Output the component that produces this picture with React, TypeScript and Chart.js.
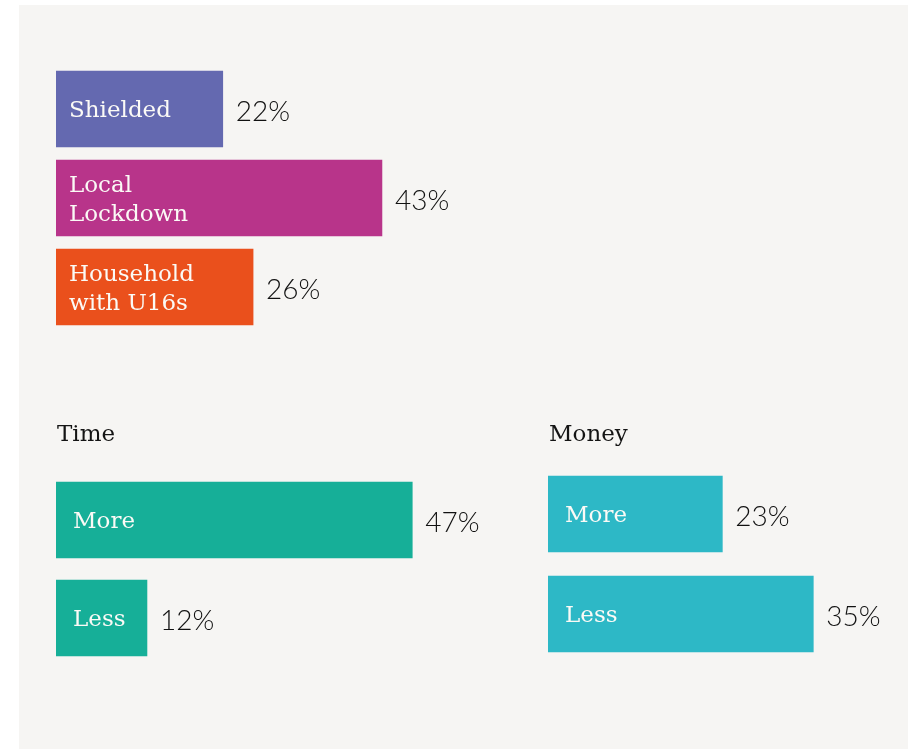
import React, { useEffect, useRef } from "react";
import { Chart, registerables } from "chart.js";

Chart.register(...registerables);

// ---- data ----
const topLabels = [["Shielded"], ["Local", "Lockdown"], ["Household", "with U16s"]];
const topValues = [22, 43, 26];
const topColors = ["#6469b0", "#b8348a", "#ea501c"];

const timeTitle = "Time";
const timeLabels = [["More"], ["Less"]];
const timeValues = [47, 12];
const timeColors = ["#16af98", "#16af98"];

const moneyTitle = "Money";
const moneyLabels = [["More"], ["Less"]];
const moneyValues = [23, 35];
const moneyColors = ["#2db8c6", "#2db8c6"];

const valueSuffix = "%";

// ---- layout ----
const PX_PER_UNIT = 7.58;
const PANEL_BG = "#f6f5f3";

const labelPlugin = {
  id: "barLabels",
  afterDatasetsDraw(chart: any, _args: any, opts: any) {
    const ctx = chart.ctx;
    const meta = chart.getDatasetMeta(0);
    const data = chart.data.datasets[0].data;
    meta.data.forEach((bar: any, i: number) => {
      const lines: string[] = chart.data.labels[i];
      ctx.save();
      ctx.font = "23px 'DejaVu Serif'";
      ctx.fillStyle = "#fbfaf6";
      ctx.textBaseline = "alphabetic";
      ctx.textAlign = "left";
      const lh = 29;
      const firstCenter = bar.y - ((lines.length - 1) * lh) / 2;
      lines.forEach((l, j) => {
        ctx.fillText(l, bar.base + opts.inset, firstCenter + j * lh + 8);
      });
      ctx.font = "300 28px Lato";
      ctx.fillStyle = "#111111";
      ctx.fillText(data[i] + valueSuffix, bar.x + opts.gap, bar.y + 12);
      ctx.restore();
    });
    if (opts.title) {
      ctx.save();
      ctx.font = "23px 'DejaVu Serif'";
      ctx.fillStyle = "#141414";
      ctx.textBaseline = "alphabetic";
      ctx.fillText(opts.title, chart.chartArea.left + opts.titleDx, opts.titleY);
      ctx.restore();
    }
  },
};

type PanelProps = {
  left: number;
  top: number;
  width: number;
  height: number;
  areaX: number;
  areaY: number;
  areaH: number;
  max: number;
  labels: string[][];
  values: number[];
  colors: string[];
  inset: number;
  gap: number;
  title?: string;
  titleY?: number;
};

function BarPanel(p: PanelProps) {
  const ref = useRef<HTMLCanvasElement | null>(null);
  useEffect(() => {
    if (!ref.current) return;
    const padLeft = p.areaX - p.left;
    const padTop = p.areaY - p.top;
    const areaW = p.max * PX_PER_UNIT;
    const padRight = p.width - padLeft - areaW;
    const padBottom = p.height - padTop - p.areaH;
    const chart = new Chart(ref.current, {
      type: "bar",
      data: {
        labels: p.labels as any,
        datasets: [
          {
            data: p.values,
            backgroundColor: p.colors,
            borderWidth: 0,
            barThickness: 76,
          },
        ],
      },
      options: {
        indexAxis: "y",
        animation: false,
        responsive: false,
        devicePixelRatio: 1,
        layout: { padding: { left: padLeft, right: padRight, top: padTop, bottom: padBottom } },
        scales: {
          x: { display: false, min: 0, max: p.max },
          y: { display: false },
        },
        plugins: {
          legend: { display: false },
          tooltip: { enabled: false },
          barLabels: {
            inset: p.inset,
            gap: p.gap,
            title: p.title,
            titleY: (p.titleY ?? 0) - p.top,
            titleDx: 1,
          },
        } as any,
      },
      plugins: [labelPlugin],
    });
    return () => chart.destroy();
  }, []);
  return (
    <canvas
      ref={ref}
      width={p.width}
      height={p.height}
      style={{ position: "absolute", left: p.left, top: p.top, width: p.width, height: p.height }}
    />
  );
}

export default function App() {
  return (
    <div style={{ position: "fixed", left: 0, top: 0, width: 908, height: 749, background: "#ffffff", overflow: "hidden" }}>
      <div style={{ position: "absolute", left: 19, top: 5, width: 889, height: 744, background: PANEL_BG }} />
      <BarPanel
        left={0}
        top={0}
        width={908}
        height={345}
        areaX={56}
        areaY={64.5}
        areaH={267}
        max={100}
        labels={topLabels}
        values={topValues}
        colors={topColors}
        inset={13}
        gap={13}
      />
      <BarPanel
        left={0}
        top={400}
        width={540}
        height={349}
        areaX={56}
        areaY={471}
        areaH={196}
        max={60}
        labels={timeLabels}
        values={timeValues}
        colors={timeColors}
        inset={17}
        gap={13}
        title={timeTitle}
        titleY={441}
      />
      <BarPanel
        left={540}
        top={400}
        width={368}
        height={349}
        areaX={548}
        areaY={464}
        areaH={200}
        max={40}
        labels={moneyLabels}
        values={moneyValues}
        colors={moneyColors}
        inset={17}
        gap={13}
        title={moneyTitle}
        titleY={441}
      />
    </div>
  );
}
